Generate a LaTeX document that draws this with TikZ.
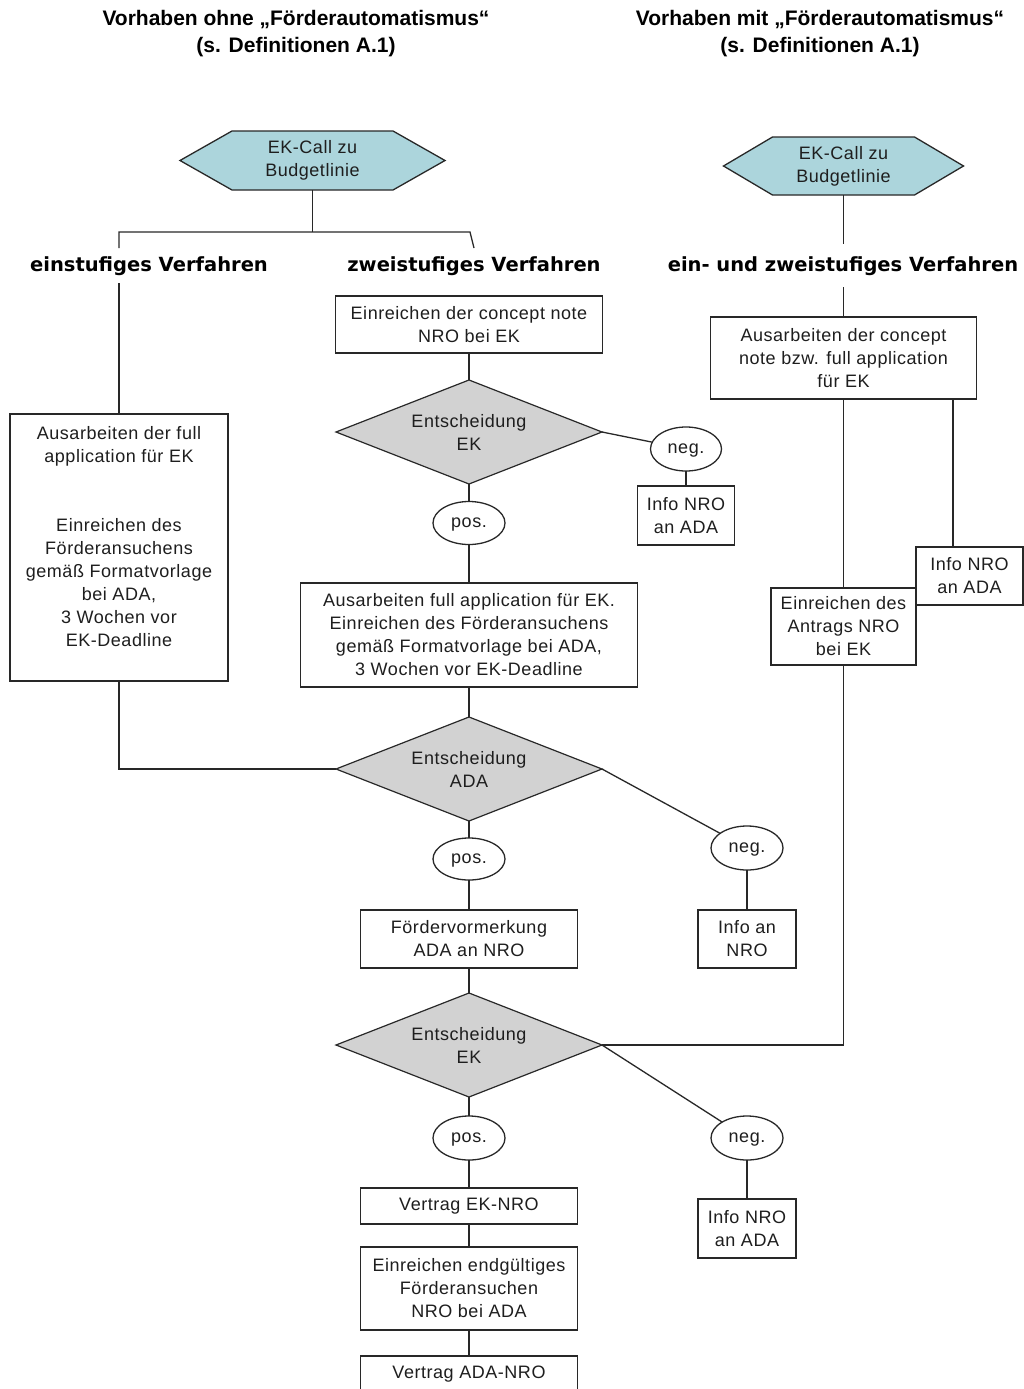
\documentclass[tikz,border=0pt]{standalone}
\usepackage{fontspec}
\setmainfont{Liberation Sans}
\newfontfamily\bodyfont{Liberation Sans}[LetterSpace=3]
\newfontfamily\headfont{DejaVu Sans}
\newfontfamily\titlefont{Liberation Sans}
\usetikzlibrary{shapes.geometric,backgrounds}
\definecolor{hexfill}{RGB}{172,213,220}
\definecolor{decfill}{RGB}{210,210,210}
\definecolor{ln}{RGB}{40,40,40}
\definecolor{txt}{RGB}{30,30,30}
\begin{document}
\begin{tikzpicture}[x=1pt,y=-1pt,
 every node/.style={inner sep=0pt, outer sep=0pt},
 body/.style={font=\bodyfont\fontsize{18}{23}\selectfont, text=txt, align=center},
 box/.style={body, draw=ln, line width=1.3pt, fill=white},
 dec/.style={body, diamond, aspect=2.5, draw=ln, fill=decfill, line width=1.2pt, minimum width=266pt, minimum height=104pt},
 oval/.style={body, ellipse, draw=ln, fill=white, line width=1.3pt, minimum width=72pt, minimum height=44pt, text height=9.4pt, text depth=0pt},
 heading/.style={font=\headfont\bfseries\fontsize{19.5}{24}\selectfont, text=black},
 title/.style={font=\titlefont\bfseries\fontsize{21}{27}\selectfont, align=center, text=black},
 hexbox/.style={body},
 conn/.style={draw=ln, line width=1.3pt},
]
\useasboundingbox (0,0) rectangle (1024,1389);

% titles
\node[title] (tL) at (296,33.5) {Vorhaben ohne „Förderautomatismus“\\(s. Definitionen A.1)};
\node[title] (tR) at (820,33.5) {Vorhaben mit „Förderautomatismus“\\(s. Definitionen A.1)};

% hexagons
\node[hexbox, minimum width=265pt, minimum height=59pt] (hexL) at (312.5,160.5) {EK-Call zu\\Budgetlinie};
\node[hexbox, minimum width=240pt, minimum height=58pt] (hexR) at (843.5,166) {EK-Call zu\\Budgetlinie};

% headings
\node[heading] (hL) at (149,266) {einstufiges Verfahren};
\node[heading] (hM) at (474,266) {zweistufiges Verfahren};
\node[heading] (hR) at (843,266) {ein- und zweistufiges Verfahren};

% left column
\node[box, minimum width=218pt, minimum height=267pt] (fl) at (119,547.5) {Ausarbeiten der full\\application für EK\\[46pt]Einreichen des\\Förderansuchens\\gemäß Formatvorlage\\bei ADA,\\3 Wochen vor\\EK-Deadline\\\mbox{}};

% middle column
\node[box, minimum width=267pt, minimum height=57pt] (cn) at (469,324.5) {Einreichen der concept note\\NRO bei EK};
\node[dec] (d1) at (469,432) {Entscheidung\\EK};
\node[oval, minimum width=71pt] (n1) at (686,449) {neg.};
\node[box, minimum width=97pt, minimum height=59pt] (i1) at (686,515.5) {Info NRO\\an ADA};
\node[oval, minimum height=43pt] (p1) at (469,523) {pos.};
\node[box, minimum width=337pt, minimum height=104pt] (fa) at (469,635) {Ausarbeiten full application für EK.\\Einreichen des Förderansuchens\\gemäß Formatvorlage bei ADA,\\3 Wochen vor EK-Deadline};
\node[dec] (d2) at (469,769) {Entscheidung\\ADA};
\node[oval] (n2) at (747,848) {neg.};
\node[box, minimum width=98pt, minimum height=58pt] (i2) at (747,939) {Info an\\NRO};
\node[oval, minimum height=42pt] (p2) at (469,859) {pos.};
\node[box, minimum width=217pt, minimum height=58pt] (fv) at (469,939) {Fördervormerkung\\ADA an NRO};
\node[dec] (d3) at (469,1045) {Entscheidung\\EK};
\node[oval] (p3) at (469,1138) {pos.};
\node[oval] (n3) at (747,1138) {neg.};
\node[box, minimum width=98pt, minimum height=59pt] (i3) at (747,1228.5) {Info NRO\\an ADA};
\node[box, minimum width=217pt, minimum height=36pt] (v1) at (469,1206) {Vertrag EK-NRO};
\node[box, minimum width=217pt, minimum height=83pt] (ee) at (469,1288.5) {Einreichen endgültiges\\Förderansuchen\\NRO bei ADA};
\node[box, minimum width=217pt, minimum height=36pt] (v2) at (469,1374) {Vertrag ADA-NRO};

% right column
\node[box, minimum width=266pt, minimum height=82pt] (ca) at (843.5,358) {Ausarbeiten der concept\\note bzw. full application\\für EK};
\node[box, minimum width=107pt, minimum height=58pt] (iR) at (969.5,576) {Info NRO\\an ADA};
\node[box, minimum width=145pt, minimum height=77pt] (ea) at (843.5,626.5) {Einreichen des\\Antrags NRO\\bei EK};

% background: hexagon shapes
\begin{scope}[on background layer]
\fill[white] (0,0) rectangle (1024,1389);
\draw[draw=ln, fill=hexfill, line width=1.3pt] (hexL.west) -- ([xshift=52pt]hexL.north west) -- ([xshift=-52pt]hexL.north east) -- (hexL.east) -- ([xshift=-52pt]hexL.south east) -- ([xshift=52pt]hexL.south west) -- cycle;
\draw[draw=ln, fill=hexfill, line width=1.3pt] (hexR.west) -- ([xshift=49pt]hexR.north west) -- ([xshift=-49pt]hexR.north east) -- (hexR.east) -- ([xshift=-49pt]hexR.south east) -- ([xshift=49pt]hexR.south west) -- cycle;
\end{scope}

% junction coordinates
\coordinate (jL) at (119,232);
\coordinate (jR) at (470,232);
\coordinate (jLe) at (119,248);
\coordinate (jRe) at (474,248);
\coordinate (jL2) at (119,283);
\coordinate (r1) at (843.5,244);
\coordinate (r2) at (843.5,287);
\coordinate (xr) at (953,0);

% connectors left / top
\draw[conn] (hexL.south) -- (hexL.south |- jL);
\draw[conn] (jLe) -- (jL) -- (jR) -- (jRe);
\draw[conn] (jL2) -- (fl.north);
\draw[conn] (fl.south) |- (d2.west);

% middle connectors
\draw[conn] (cn.south) -- (d1.north);
\draw[conn] (d1.east) -- (n1);
\draw[conn] (n1.south) -- (n1.south |- i1.north);
\draw[conn] (d1.south) -- (p1.north);
\draw[conn] (p1.south) -- (fa.north);
\draw[conn] (fa.south) -- (d2.north);
\draw[conn] (d2.east) -- (n2);
\draw[conn] (n2.south) -- (i2.north);
\draw[conn] (d2.south) -- (p2.north);
\draw[conn] (p2.south) -- (fv.north);
\draw[conn] (fv.south) -- (d3.north);
\draw[conn] (d3.east) -- (n3);
\draw[conn] (n3.south) -- (i3.north);
\draw[conn] (d3.south) -- (p3.north);
\draw[conn] (p3.south) -- (v1.north);
\draw[conn] (v1.south) -- (ee.north);
\draw[conn] (ee.south) -- (v2.north);

% right connectors
\draw[conn] (hexR.south) -- (r1);
\draw[conn] (r2) -- (ca.north);
\draw[conn] (ca.south) -- (ea.north);
\draw[conn] (ca.south -| xr) -- (iR.north -| xr);
\draw[conn] (ea.south) |- (d3.east);
\end{tikzpicture}
\end{document}
